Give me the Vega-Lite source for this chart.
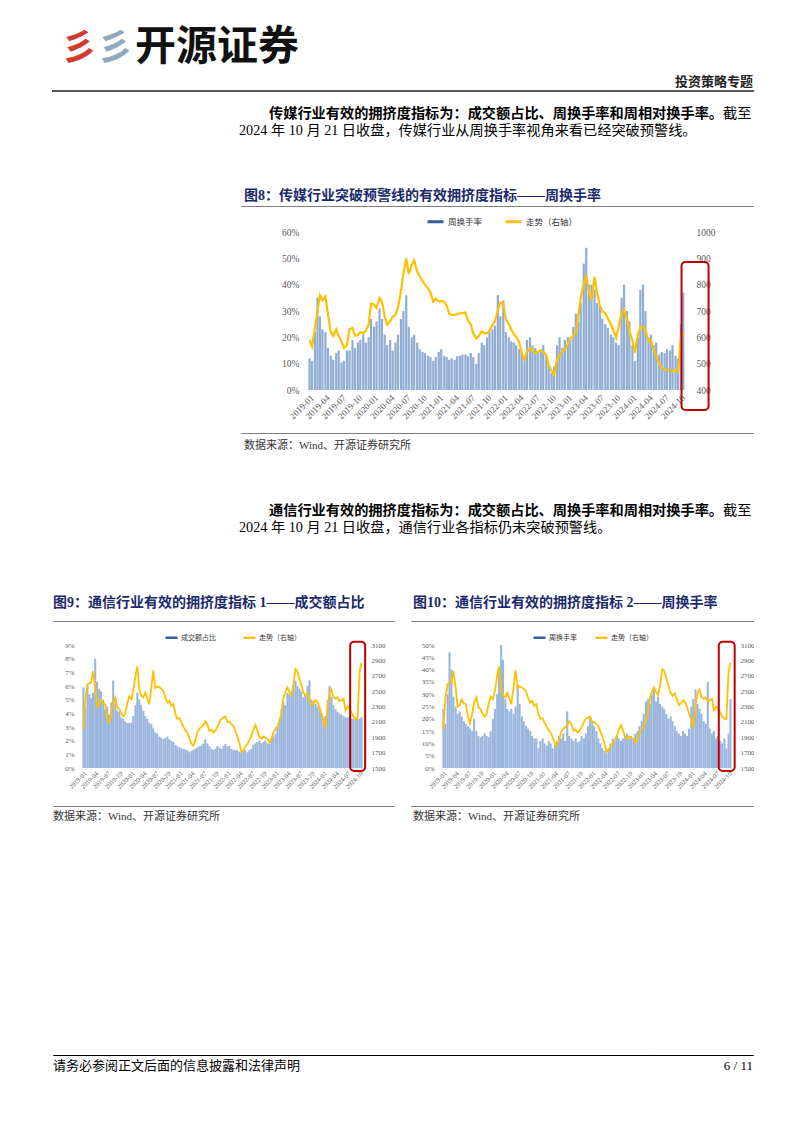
{
  "$schema": "https://vega.github.io/schema/vega-lite/v6.json",
  "background": "white",
  "padding": {"left": 52, "top": 0, "right": 0, "bottom": 0},
  "config": {
    "view": {"stroke": null},
    "axis": {"labelFont": "Liberation Serif", "labelColor": "#595959", "grid": false, "ticks": false, "domain": false, "labelOverlap": false}
  },
  "datasets": {
    "w": [
      {"d":"2019-01-04","a":12,"b":590,"c":5.9,"e":2000,"f":24},
      {"d":"2019-01-18","a":11,"b":565,"c":4.5,"e":2400,"f":18},
      {"d":"2019-02-04","a":22,"b":640,"c":6.0,"e":2590,"f":30},
      {"d":"2019-02-18","a":35,"b":700,"c":5.4,"e":2600,"f":47},
      {"d":"2019-03-04","a":28,"b":760,"c":5.1,"e":2620,"f":40},
      {"d":"2019-03-18","a":23,"b":740,"c":5.5,"e":2760,"f":29},
      {"d":"2019-04-04","a":22,"b":755,"c":8.0,"e":2550,"f":25},
      {"d":"2019-04-18","a":16,"b":690,"c":6.3,"e":2300,"f":22},
      {"d":"2019-05-04","a":13,"b":621,"c":5.8,"e":2320,"f":23},
      {"d":"2019-05-18","a":11.5,"b":605,"c":5.6,"e":2390,"f":21},
      {"d":"2019-06-04","a":14,"b":630,"c":5.0,"e":2340,"f":19},
      {"d":"2019-06-18","a":15,"b":605,"c":4.3,"e":2330,"f":18},
      {"d":"2019-07-04","a":10.5,"b":585,"c":4.5,"e":2170,"f":17},
      {"d":"2019-07-18","a":11,"b":560,"c":3.9,"e":2080,"f":16},
      {"d":"2019-08-04","a":15,"b":570,"c":4.8,"e":2200,"f":15},
      {"d":"2019-08-18","a":15,"b":630,"c":6.4,"e":2360,"f":20},
      {"d":"2019-09-04","a":19,"b":636,"c":5.0,"e":2420,"f":15},
      {"d":"2019-09-18","a":16,"b":606,"c":4.2,"e":2290,"f":13},
      {"d":"2019-10-04","a":18,"b":609,"c":4.1,"e":2266,"f":12.5},
      {"d":"2019-10-18","a":19,"b":620,"c":3.7,"e":2210,"f":13},
      {"d":"2019-11-04","a":21,"b":615,"c":3.6,"e":2170,"f":14},
      {"d":"2019-11-18","a":18,"b":625,"c":3.4,"e":2200,"f":13},
      {"d":"2019-12-04","a":20,"b":648,"c":3.3,"e":2340,"f":12.5},
      {"d":"2019-12-18","a":27,"b":728,"c":3.3,"e":2430,"f":15},
      {"d":"2020-01-04","a":24,"b":725,"c":3.3,"e":2396,"f":20},
      {"d":"2020-01-18","a":26,"b":712,"c":3.8,"e":2500,"f":24},
      {"d":"2020-02-04","a":31,"b":750,"c":4.6,"e":2700,"f":30},
      {"d":"2020-02-18","a":27,"b":735,"c":5.5,"e":2820,"f":40},
      {"d":"2020-03-04","a":21,"b":680,"c":5.0,"e":2520,"f":50},
      {"d":"2020-03-18","a":17,"b":648,"c":4.6,"e":2440,"f":44},
      {"d":"2020-04-04","a":19,"b":662,"c":4.2,"e":2420,"f":28},
      {"d":"2020-04-18","a":15,"b":678,"c":3.8,"e":2480,"f":24},
      {"d":"2020-05-04","a":18,"b":685,"c":3.6,"e":2400,"f":23},
      {"d":"2020-05-18","a":21,"b":712,"c":3.3,"e":2330,"f":24},
      {"d":"2020-06-04","a":27,"b":775,"c":3.2,"e":2560,"f":22},
      {"d":"2020-06-18","a":30,"b":840,"c":2.9,"e":2770,"f":25},
      {"d":"2020-07-04","a":36,"b":900,"c":2.6,"e":2540,"f":34},
      {"d":"2020-07-18","a":24,"b":840,"c":2.5,"e":2560,"f":26},
      {"d":"2020-08-04","a":20,"b":875,"c":2.3,"e":2550,"f":21},
      {"d":"2020-08-18","a":21,"b":893,"c":2.2,"e":2530,"f":19},
      {"d":"2020-09-04","a":18,"b":849,"c":2.1,"e":2500,"f":17},
      {"d":"2020-09-18","a":15.5,"b":832,"c":2.2,"e":2410,"f":16},
      {"d":"2020-10-04","a":14.5,"b":814,"c":2.3,"e":2350,"f":15},
      {"d":"2020-10-18","a":14,"b":800,"c":2.1,"e":2375,"f":13},
      {"d":"2020-11-04","a":13,"b":786,"c":2.0,"e":2310,"f":12},
      {"d":"2020-11-18","a":12.5,"b":770,"c":1.9,"e":2330,"f":12},
      {"d":"2020-12-04","a":11,"b":735,"c":1.7,"e":2200,"f":8},
      {"d":"2020-12-18","a":12.5,"b":747,"c":1.6,"e":2140,"f":11},
      {"d":"2021-01-04","a":14.5,"b":737,"c":1.5,"e":2150,"f":12},
      {"d":"2021-01-18","a":15.5,"b":738,"c":1.45,"e":2090,"f":10},
      {"d":"2021-02-04","a":13,"b":735,"c":1.4,"e":2030,"f":9},
      {"d":"2021-02-18","a":12.5,"b":720,"c":1.35,"e":1990,"f":11},
      {"d":"2021-03-04","a":11.5,"b":690,"c":1.3,"e":1960,"f":10},
      {"d":"2021-03-18","a":12,"b":685,"c":1.15,"e":1900,"f":8},
      {"d":"2021-04-04","a":11.5,"b":685,"c":1.25,"e":1815,"f":9.5},
      {"d":"2021-04-18","a":12.8,"b":689,"c":1.3,"e":1790,"f":11},
      {"d":"2021-05-04","a":13,"b":691,"c":1.4,"e":1850,"f":13},
      {"d":"2021-05-18","a":13.5,"b":692,"c":1.5,"e":1960,"f":12},
      {"d":"2021-06-04","a":13.5,"b":695,"c":1.6,"e":2010,"f":14},
      {"d":"2021-06-18","a":12.8,"b":663,"c":1.6,"e":2030,"f":11},
      {"d":"2021-07-04","a":14,"b":650,"c":1.8,"e":2060,"f":23},
      {"d":"2021-07-18","a":12.5,"b":615,"c":2.1,"e":2110,"f":13},
      {"d":"2021-08-04","a":10,"b":596,"c":1.8,"e":2070,"f":12},
      {"d":"2021-08-18","a":14,"b":605,"c":1.6,"e":1985,"f":11},
      {"d":"2021-09-04","a":18,"b":622,"c":1.4,"e":2000,"f":12},
      {"d":"2021-09-18","a":17,"b":617,"c":1.3,"e":1960,"f":10.5},
      {"d":"2021-10-04","a":20,"b":615,"c":1.4,"e":1990,"f":11},
      {"d":"2021-10-18","a":22,"b":625,"c":1.6,"e":2030,"f":13},
      {"d":"2021-11-04","a":23,"b":648,"c":1.5,"e":2100,"f":12},
      {"d":"2021-11-18","a":24.5,"b":662,"c":1.4,"e":2140,"f":14},
      {"d":"2021-12-04","a":36,"b":704,"c":1.6,"e":2160,"f":17},
      {"d":"2021-12-18","a":28,"b":732,"c":1.75,"e":2170,"f":21},
      {"d":"2022-01-04","a":34,"b":729,"c":1.6,"e":2100,"f":19},
      {"d":"2022-01-18","a":22,"b":670,"c":1.6,"e":2100,"f":17},
      {"d":"2022-02-04","a":20,"b":650,"c":1.4,"e":2070,"f":15},
      {"d":"2022-02-18","a":18.5,"b":630,"c":1.3,"e":2040,"f":12},
      {"d":"2022-03-04","a":18,"b":612,"c":1.3,"e":1980,"f":10},
      {"d":"2022-03-18","a":17,"b":602,"c":1.3,"e":1920,"f":8},
      {"d":"2022-04-04","a":15.5,"b":580,"c":1.2,"e":1830,"f":7},
      {"d":"2022-04-18","a":14,"b":540,"c":1.15,"e":1710,"f":6},
      {"d":"2022-05-04","a":12,"b":515,"c":1.25,"e":1730,"f":8},
      {"d":"2022-05-18","a":19,"b":546,"c":1.3,"e":1780,"f":10},
      {"d":"2022-06-04","a":20,"b":558,"c":1.15,"e":1812,"f":12},
      {"d":"2022-06-18","a":17,"b":553,"c":1.3,"e":1860,"f":11},
      {"d":"2022-07-04","a":16,"b":539,"c":1.4,"e":1920,"f":13},
      {"d":"2022-07-18","a":14.5,"b":545,"c":1.7,"e":1990,"f":12},
      {"d":"2022-08-04","a":15.5,"b":550,"c":1.8,"e":2059,"f":11},
      {"d":"2022-08-18","a":17,"b":545,"c":1.9,"e":1990,"f":12},
      {"d":"2022-09-04","a":13,"b":533,"c":2.0,"e":1900,"f":13},
      {"d":"2022-09-18","a":9.5,"b":495,"c":1.8,"e":1880,"f":14},
      {"d":"2022-10-04","a":6.5,"b":472,"c":1.9,"e":1910,"f":12},
      {"d":"2022-10-18","a":9,"b":458,"c":2.0,"e":1895,"f":13},
      {"d":"2022-11-04","a":17,"b":515,"c":1.8,"e":1877,"f":12},
      {"d":"2022-11-18","a":20,"b":532,"c":1.75,"e":1830,"f":14},
      {"d":"2022-12-04","a":16,"b":546,"c":2.1,"e":1880,"f":15},
      {"d":"2022-12-18","a":19,"b":552,"c":2.3,"e":1960,"f":17},
      {"d":"2023-01-04","a":20,"b":575,"c":2.5,"e":2010,"f":19},
      {"d":"2023-01-18","a":19,"b":595,"c":3.0,"e":2040,"f":22},
      {"d":"2023-02-04","a":24,"b":606,"c":3.6,"e":2115,"f":27},
      {"d":"2023-02-18","a":29,"b":615,"c":4.3,"e":2220,"f":28},
      {"d":"2023-03-04","a":26,"b":680,"c":4.8,"e":2400,"f":26},
      {"d":"2023-03-18","a":33,"b":750,"c":4.6,"e":2483,"f":30},
      {"d":"2023-04-04","a":48,"b":805,"c":5.5,"e":2548,"f":32},
      {"d":"2023-04-18","a":54,"b":835,"c":5.4,"e":2490,"f":27},
      {"d":"2023-05-04","a":40,"b":770,"c":5.3,"e":2450,"f":29},
      {"d":"2023-05-18","a":40,"b":740,"c":6.0,"e":2560,"f":26},
      {"d":"2023-06-04","a":38,"b":830,"c":6.4,"e":2786,"f":25},
      {"d":"2023-06-18","a":33,"b":770,"c":6.0,"e":2764,"f":24},
      {"d":"2023-07-04","a":32,"b":720,"c":5.8,"e":2660,"f":22},
      {"d":"2023-07-18","a":27,"b":698,"c":5.6,"e":2580,"f":20},
      {"d":"2023-08-04","a":25,"b":692,"c":5.2,"e":2480,"f":21},
      {"d":"2023-08-18","a":23.5,"b":672,"c":5.4,"e":2440,"f":19},
      {"d":"2023-09-04","a":21,"b":650,"c":6.0,"e":2470,"f":17},
      {"d":"2023-09-18","a":20,"b":628,"c":6.4,"e":2400,"f":15},
      {"d":"2023-10-04","a":18,"b":598,"c":5.0,"e":2320,"f":14},
      {"d":"2023-10-18","a":17,"b":640,"c":4.9,"e":2340,"f":13},
      {"d":"2023-11-04","a":35,"b":690,"c":4.7,"e":2380,"f":15},
      {"d":"2023-11-18","a":40,"b":705,"c":4.5,"e":2360,"f":14},
      {"d":"2023-12-04","a":30,"b":672,"c":4.3,"e":2290,"f":13},
      {"d":"2023-12-18","a":26,"b":625,"c":4.0,"e":2210,"f":16},
      {"d":"2024-01-04","a":17,"b":590,"c":3.6,"e":2120,"f":25},
      {"d":"2024-01-18","a":11,"b":540,"c":3.8,"e":2020,"f":28},
      {"d":"2024-02-04","a":20,"b":610,"c":5.0,"e":2310,"f":32},
      {"d":"2024-02-18","a":38,"b":638,"c":6.0,"e":2470,"f":26},
      {"d":"2024-03-04","a":40,"b":640,"c":5.2,"e":2520,"f":24},
      {"d":"2024-03-18","a":30,"b":630,"c":4.6,"e":2420,"f":22},
      {"d":"2024-04-04","a":20,"b":585,"c":4.3,"e":2400,"f":19},
      {"d":"2024-04-18","a":21,"b":588,"c":4.1,"e":2420,"f":18},
      {"d":"2024-05-04","a":17,"b":550,"c":4.0,"e":2370,"f":35},
      {"d":"2024-05-18","a":18,"b":530,"c":3.9,"e":2380,"f":16},
      {"d":"2024-06-04","a":13.5,"b":500,"c":3.8,"e":2400,"f":14},
      {"d":"2024-06-18","a":14.5,"b":485,"c":3.7,"e":2250,"f":15},
      {"d":"2024-07-04","a":14,"b":476,"c":3.7,"e":2300,"f":12},
      {"d":"2024-07-18","a":15.5,"b":476,"c":3.7,"e":2280,"f":13},
      {"d":"2024-08-04","a":15,"b":476,"c":3.6,"e":2220,"f":11},
      {"d":"2024-08-18","a":17,"b":472,"c":3.6,"e":2170,"f":10},
      {"d":"2024-09-04","a":13,"b":474,"c":3.7,"e":2140,"f":12},
      {"d":"2024-09-18","a":12,"b":470,"c":3.6,"e":2140,"f":8},
      {"d":"2024-10-04","a":25,"b":600,"c":3.6,"e":2750,"f":14},
      {"d":"2024-10-18","a":37,"b":615,"c":3.7,"e":2870,"f":28}
    ]
  },
  "spacing": 0,
  "resolve": {"scale": {"color": "independent"}, "legend": {"color": "independent"}},
  "vconcat": [
    {"width": 1, "height": 27, "mark": "point", "data": {"values": []}},
    {
      "hconcat": [
        {"width": 44, "height": 0.01, "mark": "point", "data": {"values": []},
         "title": {"text": "彡", "anchor": "start", "frame": "group", "dx": 8, "offset": 6, "font": "Noto Sans CJK SC", "fontSize": 36, "fontWeight": "bold", "color": "#D23B2F"}},
        {"width": 36, "height": 0.01, "mark": "point", "data": {"values": []},
         "title": {"text": "彡", "anchor": "start", "frame": "group", "dx": 0, "offset": 6, "font": "Noto Sans CJK SC", "fontSize": 36, "fontWeight": "bold", "color": "#8FAABF"}},
        {"width": 620, "height": 0.01, "mark": "point", "data": {"values": []},
         "title": {"text": "开源证券", "anchor": "start", "frame": "group", "dx": 2, "offset": 5, "font": "Noto Sans CJK SC", "fontSize": 41, "fontWeight": "bold", "color": "#111111"}}
      ],
      "spacing": 0, "bounds": "flush"
    },
    {"width": 700, "height": 0.01, "mark": "point", "data": {"values": []},
     "view": {"stroke": "#595959", "strokeWidth": 2},
     "title": {"text": "投资策略专题", "anchor": "end", "frame": "group", "offset": 2, "font": "Noto Sans CJK SC", "fontSize": 13, "fontWeight": "bold", "color": "#222222"}},
    {"width": 1, "height": 13, "mark": "point", "data": {"values": []}},
    {
      "hconcat": [
        {"width": 670, "height": 2, "mark": "point", "data": {"values": []},
         "title": {"text": "传媒行业有效的拥挤度指标为：成交额占比、周换手率和周相对换手率。", "anchor": "start", "frame": "group", "dx": 216, "offset": 0, "font": "Liberation Serif, Noto Sans CJK SC", "fontSize": 14.2, "fontWeight": "bold", "color": "#000000"}},
        {"width": 30, "height": 2, "mark": "point", "data": {"values": []},
         "title": {"text": "截至", "anchor": "start", "frame": "group", "dx": 0, "offset": 0, "font": "Liberation Serif, Noto Sans CJK SC", "fontSize": 14.2, "fontWeight": "normal", "color": "#000000"}}
      ],
      "spacing": 0, "bounds": "flush"
    },
    {"width": 700, "height": 50, "mark": "point", "data": {"values": []},
     "title": {"text": "2024 年 10 月 21 日收盘，传媒行业从周换手率视角来看已经突破预警线。", "anchor": "start", "frame": "group", "dx": 186, "offset": 0, "font": "Liberation Serif, Noto Sans CJK SC", "fontSize": 14.2, "fontWeight": "normal", "color": "#000000"}},
    {
      "hconcat": [
        {"width": 188, "height": 0.01, "mark": "point", "data": {"values": []}},
        {"width": 512, "height": 0.01, "mark": "point", "data": {"values": []},
         "view": {"stroke": "#7F7F7F", "strokeWidth": 1},
         "title": {"text": "图8：传媒行业突破预警线的有效拥挤度指标——周换手率", "anchor": "start", "frame": "group", "dx": 3, "offset": 3.5, "font": "Liberation Serif, Noto Sans CJK SC", "fontSize": 14, "fontWeight": "bold", "color": "#1B2A6B"}}
      ],
      "spacing": 0, "bounds": "flush"
    },
    {"width": 1, "height": 4.5, "mark": "point", "data": {"values": []}},
    {
      "hconcat": [
        {"width": 251, "height": 0.01, "mark": "point", "data": {"values": []}},
        {
          "width": 385, "height": 158,
          "data": {"name": "w"},
          "layer": [
            {"mark": {"type": "bar", "color": "#8EACD4", "width": 2.2},
             "encoding": {
               "x": {"field": "d", "type": "temporal", "title": null,
                     "scale": {"domain": [{"year": 2019, "month": 1, "date": 1}, {"year": 2024, "month": 10, "date": 22}]},
                     "axis": {"format": "%Y-%m", "tickCount": {"interval": "month", "step": 3}, "labelAngle": -45, "labelFontSize": 9, "labelPadding": 3, "labelOverlap": false, "labelFlush": false, "labelBound": false}},
               "y": {"field": "a", "type": "quantitative", "title": null,
                     "scale": {"domain": [0, 60], "nice": false},
                     "axis": {"orient": "left", "values": [0, 10, 20, 30, 40, 50, 60], "labelExpr": "datum.value + '%'", "labelFontSize": 9.5, "labelPadding": 5, "labelOverlap": false}}
             }},
            {"mark": {"type": "line", "strokeWidth": 2.2},
             "encoding": {
               "x": {"field": "d", "type": "temporal", "title": null},
               "y": {"field": "b", "type": "quantitative", "title": null,
                     "scale": {"domain": [400, 1000], "nice": false, "zero": false},
                     "axis": {"orient": "right", "values": [400, 500, 600, 700, 800, 900, 1000], "format": "d", "labelFontSize": 9.5, "labelPadding": 7, "labelOverlap": false}},
               "color": {"datum": "走势（右轴）", "title": null,
                         "scale": {"domain": ["周换手率", "走势（右轴）"], "range": ["#2E5E9E", "#FFC000"]},
                         "legend": {"orient": "none", "legendX": 122, "legendY": -20, "direction": "horizontal", "title": null, "symbolType": "stroke", "symbolSize": 256, "symbolStrokeWidth": 3, "labelFont": "Noto Sans CJK SC", "labelFontSize": 8.5, "labelColor": "#333333", "columnPadding": 16, "labelOffset": 3}}
             }},
            {"data": {"values": [{}]},
             "mark": {"type": "rect", "fill": "transparent", "stroke": "#C00000", "strokeWidth": 2, "cornerRadius": 4},
             "encoding": {
               "x": {"datum": {"year": 2024, "month": 10, "date": 8}, "type": "temporal", "title": null},
               "x2": {"datum": {"year": 2025, "month": 3, "date": 10}},
               "y": {"datum": 886, "type": "quantitative", "title": null, "axis": null,
                     "scale": {"domain": [400, 1000], "nice": false, "zero": false}},
               "y2": {"datum": 324}
             }}
          ],
          "resolve": {"scale": {"y": "independent"}}
        }
      ],
      "spacing": 0, "bounds": "flush",
      "resolve": {"scale": {"color": "independent"}, "legend": {"color": "independent"}}
    },
    {"width": 1, "height": 11, "mark": "point", "data": {"values": []}},
    {
      "hconcat": [
        {"width": 188, "height": 0.01, "mark": "point", "data": {"values": []}},
        {"width": 512, "height": 0.01, "mark": "point", "data": {"values": []},
         "view": {"stroke": "#7F7F7F", "strokeWidth": 1},
         "title": {"text": "数据来源：Wind、开源证券研究所", "orient": "bottom", "anchor": "start", "frame": "group", "dx": 3, "offset": 6.5, "font": "Liberation Serif, Noto Sans CJK SC", "fontSize": 11, "fontWeight": "normal", "color": "#333333"}}
      ],
      "spacing": 0, "bounds": "flush"
    },
    {"width": 1, "height": 50.5, "mark": "point", "data": {"values": []}},
    {
      "hconcat": [
        {"width": 670, "height": 2, "mark": "point", "data": {"values": []},
         "title": {"text": "通信行业有效的拥挤度指标为：成交额占比、周换手率和周相对换手率。", "anchor": "start", "frame": "group", "dx": 216, "offset": 0, "font": "Liberation Serif, Noto Sans CJK SC", "fontSize": 14.2, "fontWeight": "bold", "color": "#000000"}},
        {"width": 30, "height": 2, "mark": "point", "data": {"values": []},
         "title": {"text": "截至", "anchor": "start", "frame": "group", "dx": 0, "offset": 0, "font": "Liberation Serif, Noto Sans CJK SC", "fontSize": 14.2, "fontWeight": "normal", "color": "#000000"}}
      ],
      "spacing": 0, "bounds": "flush"
    },
    {"width": 700, "height": 59.3, "mark": "point", "data": {"values": []},
     "title": {"text": "2024 年 10 月 21 日收盘，通信行业各指标仍未突破预警线。", "anchor": "start", "frame": "group", "dx": 186, "offset": 0, "font": "Liberation Serif, Noto Sans CJK SC", "fontSize": 14.2, "fontWeight": "normal", "color": "#000000"}},
    {
      "hconcat": [
        {"width": 341, "height": 0.01, "mark": "point", "data": {"values": []},
         "view": {"stroke": "#7F7F7F", "strokeWidth": 1},
         "title": {"text": "图9：通信行业有效的拥挤度指标 1——成交额占比", "anchor": "start", "frame": "group", "dx": 0, "offset": 11.5, "font": "Liberation Serif, Noto Sans CJK SC", "fontSize": 14, "fontWeight": "bold", "color": "#1B2A6B"}},
        {"width": 17, "height": 0.01, "mark": "point", "data": {"values": []}},
        {"width": 342, "height": 0.01, "mark": "point", "data": {"values": []},
         "view": {"stroke": "#7F7F7F", "strokeWidth": 1},
         "title": {"text": "图10：通信行业有效的拥挤度指标 2——周换手率", "anchor": "start", "frame": "group", "dx": 2, "offset": 11.5, "font": "Liberation Serif, Noto Sans CJK SC", "fontSize": 14, "fontWeight": "bold", "color": "#1B2A6B"}}
      ],
      "spacing": 0, "bounds": "flush"
    },
    {"width": 1, "height": 7.5, "mark": "point", "data": {"values": []}},
    {
      "hconcat": [
        {"width": 25, "height": 0.01, "mark": "point", "data": {"values": []}},
        {
          "width": 289, "height": 123,
          "data": {"name": "w"},
          "layer": [
            {"mark": {"type": "bar", "color": "#9AB6DC", "width": 2.1},
             "encoding": {
               "x": {"field": "d", "type": "temporal", "title": null,
                     "scale": {"domain": [{"year": 2019, "month": 1, "date": 1}, {"year": 2024, "month": 10, "date": 22}]},
                     "axis": {"format": "%Y-%m", "tickCount": {"interval": "month", "step": 3}, "labelAngle": -45, "labelFontSize": 6.5, "labelPadding": 2, "labelOverlap": false, "labelFlush": false, "labelBound": false}},
               "y": {"field": "c", "type": "quantitative", "title": null,
                     "scale": {"domain": [0, 9], "nice": false},
                     "axis": {"orient": "left", "values": [0, 1, 2, 3, 4, 5, 6, 7, 8, 9], "labelExpr": "datum.value + '%'", "labelFontSize": 7, "labelPadding": 4, "labelOverlap": false}}
             }},
            {"mark": {"type": "line", "strokeWidth": 1.8},
             "encoding": {
               "x": {"field": "d", "type": "temporal", "title": null},
               "y": {"field": "e", "type": "quantitative", "title": null,
                     "scale": {"domain": [1500, 3100], "nice": false, "zero": false},
                     "axis": {"orient": "right", "values": [1500, 1700, 1900, 2100, 2300, 2500, 2700, 2900, 3100], "format": "d", "labelFontSize": 7, "labelPadding": 4, "labelOverlap": false}},
               "color": {"datum": "走势（右轴）", "title": null,
                         "scale": {"domain": ["成交额占比", "走势（右轴）"], "range": ["#2E5E9E", "#FFC000"]},
                         "legend": {"orient": "none", "legendX": 86, "legendY": -15, "direction": "horizontal", "title": null, "symbolType": "stroke", "symbolSize": 144, "symbolStrokeWidth": 2.5, "labelFont": "Noto Sans CJK SC", "labelFontSize": 7, "labelColor": "#333333", "columnPadding": 22, "labelOffset": 2}}
             }},
            {"data": {"values": [{}]},
             "mark": {"type": "rect", "fill": "transparent", "stroke": "#C00000", "strokeWidth": 2, "cornerRadius": 4},
             "encoding": {
               "x": {"datum": {"year": 2024, "month": 7, "date": 24}, "type": "temporal", "title": null},
               "x2": {"datum": {"year": 2024, "month": 11, "date": 15}},
               "y": {"datum": 3142, "type": "quantitative", "title": null, "axis": null,
                     "scale": {"domain": [1500, 3100], "nice": false, "zero": false}},
               "y2": {"datum": 1462}
             }}
          ],
          "resolve": {"scale": {"y": "independent"}}
        },
        {"width": 71, "height": 0.01, "mark": "point", "data": {"values": []}},
        {
          "width": 298, "height": 123,
          "data": {"name": "w"},
          "layer": [
            {"mark": {"type": "bar", "color": "#9AB6DC", "width": 2.1},
             "encoding": {
               "x": {"field": "d", "type": "temporal", "title": null,
                     "scale": {"domain": [{"year": 2019, "month": 1, "date": 1}, {"year": 2024, "month": 10, "date": 22}]},
                     "axis": {"format": "%Y-%m", "tickCount": {"interval": "month", "step": 3}, "labelAngle": -45, "labelFontSize": 6.5, "labelPadding": 2, "labelOverlap": false, "labelFlush": false, "labelBound": false}},
               "y": {"field": "f", "type": "quantitative", "title": null,
                     "scale": {"domain": [0, 50], "nice": false},
                     "axis": {"orient": "left", "values": [0, 5, 10, 15, 20, 25, 30, 35, 40, 45, 50], "labelExpr": "datum.value + '%'", "labelFontSize": 7, "labelPadding": 4, "labelOverlap": false}}
             }},
            {"mark": {"type": "line", "strokeWidth": 1.8},
             "encoding": {
               "x": {"field": "d", "type": "temporal", "title": null},
               "y": {"field": "e", "type": "quantitative", "title": null,
                     "scale": {"domain": [1500, 3100], "nice": false, "zero": false},
                     "axis": {"orient": "right", "values": [1500, 1700, 1900, 2100, 2300, 2500, 2700, 2900, 3100], "format": "d", "labelFontSize": 7, "labelPadding": 4, "labelOverlap": false}},
               "color": {"datum": "走势（右轴）", "title": null,
                         "scale": {"domain": ["周换手率", "走势（右轴）"], "range": ["#2E5E9E", "#FFC000"]},
                         "legend": {"orient": "none", "legendX": 94, "legendY": -15, "direction": "horizontal", "title": null, "symbolType": "stroke", "symbolSize": 144, "symbolStrokeWidth": 2.5, "labelFont": "Noto Sans CJK SC", "labelFontSize": 7, "labelColor": "#333333", "columnPadding": 13, "labelOffset": 2}}
             }},
            {"data": {"values": [{}]},
             "mark": {"type": "rect", "fill": "transparent", "stroke": "#C00000", "strokeWidth": 2, "cornerRadius": 4},
             "encoding": {
               "x": {"datum": {"year": 2024, "month": 7, "date": 24}, "type": "temporal", "title": null},
               "x2": {"datum": {"year": 2024, "month": 11, "date": 18}},
               "y": {"datum": 3142, "type": "quantitative", "title": null, "axis": null,
                     "scale": {"domain": [1500, 3100], "nice": false, "zero": false}},
               "y2": {"datum": 1462}
             }}
          ],
          "resolve": {"scale": {"y": "independent"}}
        }
      ],
      "spacing": 0, "bounds": "flush",
      "resolve": {"scale": {"color": "independent"}, "legend": {"color": "independent"}}
    },
    {"width": 1, "height": 15, "mark": "point", "data": {"values": []}},
    {
      "hconcat": [
        {"width": 341, "height": 0.01, "mark": "point", "data": {"values": []},
         "view": {"stroke": "#7F7F7F", "strokeWidth": 1},
         "title": {"text": "数据来源：Wind、开源证券研究所", "orient": "bottom", "anchor": "start", "frame": "group", "dx": 0, "offset": 4.5, "font": "Liberation Serif, Noto Sans CJK SC", "fontSize": 11, "fontWeight": "normal", "color": "#333333"}},
        {"width": 17, "height": 0.01, "mark": "point", "data": {"values": []}},
        {"width": 342, "height": 0.01, "mark": "point", "data": {"values": []},
         "view": {"stroke": "#7F7F7F", "strokeWidth": 1},
         "title": {"text": "数据来源：Wind、开源证券研究所", "orient": "bottom", "anchor": "start", "frame": "group", "dx": 2, "offset": 4.5, "font": "Liberation Serif, Noto Sans CJK SC", "fontSize": 11, "fontWeight": "normal", "color": "#333333"}}
      ],
      "spacing": 0, "bounds": "flush"
    },
    {"width": 1, "height": 230.5, "mark": "point", "data": {"values": []}},
    {
      "hconcat": [
        {"width": 600, "height": 0.01, "mark": "point", "data": {"values": []},
         "view": {"stroke": "#000000", "strokeWidth": 1},
         "title": {"text": "请务必参阅正文后面的信息披露和法律声明", "orient": "bottom", "anchor": "start", "frame": "group", "offset": 4.5, "font": "Liberation Serif, Noto Sans CJK SC", "fontSize": 13, "fontWeight": "normal", "color": "#000000"}},
        {"width": 100, "height": 0.01, "mark": "point", "data": {"values": []},
         "view": {"stroke": "#000000", "strokeWidth": 1},
         "title": {"text": "6 / 11", "orient": "bottom", "anchor": "end", "frame": "group", "offset": 4.5, "font": "Liberation Serif, Noto Sans CJK SC", "fontSize": 13, "fontWeight": "normal", "color": "#000000"}}
      ],
      "spacing": 0, "bounds": "flush"
    }
  ]
}
